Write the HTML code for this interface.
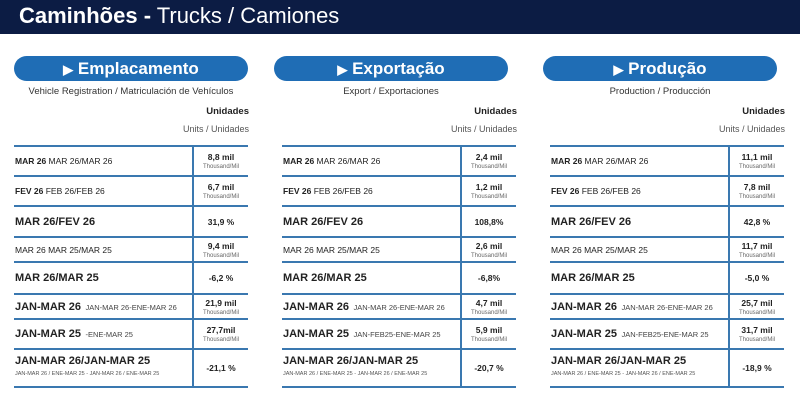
<!DOCTYPE html>
<html><head><meta charset="utf-8">
<style>
body{margin:0;width:800px;height:401px;background:#fff;position:relative;overflow:hidden;font-family:"Liberation Sans",sans-serif;color:#222}
.abs{position:absolute}
#hdr{left:0;top:0;width:800px;height:34px;background:#0c1c44}
#hdr span{position:absolute;left:19px;top:3px;color:#fff;font-size:22px;white-space:nowrap}
.pill{background:#1f6db5;border-radius:13px;height:25px;color:#fff;font-weight:bold;font-size:17px;text-align:center;line-height:25px}
.sub{font-size:9.5px;color:#333;text-align:center}
.hl{height:2px;background:#3a78b0}
.vl{width:2px;background:#3a78b0}
.lbl{font-size:8.5px;white-space:nowrap;color:#222}
.val{text-align:center;font-size:8.5px;font-weight:bold;color:#222}
.unit{font-size:6px;color:#666;font-weight:normal;display:block;margin-top:2px}
</style></head><body>
<div id="hdr" class="abs"><span><b>Caminhões -</b> Trucks / Camiones</span></div>
<script>
const panelTitles=["Emplacamento","Exportação","Produção"];
const panelSubs=["Vehicle Registration / Matriculación de Vehículos","Export / Exportaciones","Production / Producción"];
const pillX=[14,274,543];
const tabX=[14,282,550];
const sepX=[192,460,728];
const lines=[146,176,206,237,262,294,319,349,387];
const rowBold=[["MAR 26","FEV 26","MAR 26/FEV 26","","MAR 26/MAR 25","JAN-MAR 26","JAN-MAR 25","JAN-MAR 26/JAN-MAR 25"]];
const rowSmall=[
 ["MAR 26/MAR 26","FEB 26/FEB 26","","MAR 26 MAR 25/MAR 25","","JAN-MAR 26-ENE-MAR 26","-ENE-MAR 25","JAN-MAR 26 / ENE-MAR 25 - JAN-MAR 26 / ENE-MAR 25"],
 ["MAR 26/MAR 26","FEB 26/FEB 26","","MAR 26 MAR 25/MAR 25","","JAN-MAR 26-ENE-MAR 26","JAN-FEB25-ENE-MAR 25","JAN-MAR 26 / ENE-MAR 25 - JAN-MAR 26 / ENE-MAR 25"],
 ["MAR 26/MAR 26","FEB 26/FEB 26","","MAR 26 MAR 25/MAR 25","","JAN-MAR 26-ENE-MAR 26","JAN-FEB25-ENE-MAR 25","JAN-MAR 26 / ENE-MAR 25 - JAN-MAR 26 / ENE-MAR 25"]];
const values=[
 ["8,8 mil","6,7 mil","31,9 %","9,4 mil","-6,2 %","21,9 mil","27,7mil","-21,1 %"],
 ["2,4 mil","1,2 mil","108,8%","2,6 mil","-6,8%","4,7 mil","5,9 mil","-20,7 %"],
 ["11,1 mil","7,8 mil","42,8 %","11,7 mil","-5,0 %","25,7 mil","31,7 mil","-18,9 %"]];
const hasUnit=[true,true,false,true,false,true,true,false];
const big=[false,false,true,false,true,true,true,true];
function add(cls,css,html){const d=document.createElement('div');d.className='abs '+cls;Object.assign(d.style,css);if(html!==undefined)d.innerHTML=html;document.body.appendChild(d);return d;}
for(let p=0;p<3;p++){
 const pill=add('pill',{left:pillX[p]+'px',top:'56px',width:'234px'},'<span style="font-size:13px">&#9654;</span> '+panelTitles[p]);
 
 
 const sub=add('sub',{left:pillX[p]+'px',top:'86px',width:'234px'},panelSubs[p]);
 
 
 const u1=add('lbl',{left:(tabX[p]+120)+'px',top:'106px',width:'115px',textAlign:'right',fontWeight:'bold',fontSize:'9.5px'},'Unidades');
 
 
 const u2=add('lbl',{left:(tabX[p]+120)+'px',top:'124px',width:'115px',textAlign:'right',fontSize:'9px',color:'#555'},'Units / Unidades');
 
 
 for(const y of lines){
  const l=add('hl',{left:tabX[p]+'px',top:(y-1)+'px',width:'234px'});
  
  
 }
 const v=add('vl',{left:sepX[p]+'px',top:lines[0]+'px',height:(lines[8]-lines[0])+'px'});
 
 
 for(let r=0;r<8;r++){
  const y0=lines[r],y1=lines[r+1],h=y1-y0;
  const b=rowBold[0][r],s=rowSmall[p][r];
  let html;
  if(r===7) html='<b style="font-size:11px">'+b+'</b><br><span style="font-size:5.5px;color:#555">'+s+'</span>';
  else if(big[r]) html='<b style="font-size:11px">'+b+'</b> <span style="font-size:7.5px;color:#444">&nbsp;'+s+'</span>';
  else html=(b?'<b>'+b+'</b> ':'')+s;
  const lb=add('lbl',{left:(tabX[p]+1)+'px',top:y0+'px',height:h+'px',display:'flex',flexDirection:'column',justifyContent:'center',lineHeight:r===7?'11px':'normal'},'<div>'+html+'</div>');
  
  
  const vv=add('val',{left:(sepX[p]+2)+'px',top:y0+'px',width:(tabX[p]+234-sepX[p]-2)+'px',height:h+'px',display:'flex',flexDirection:'column',justifyContent:'center'},'<div>'+values[p][r]+(hasUnit[r]?'<span class="unit">Thousand/Mil</span>':'')+'</div>');
  
  
 }
}
</script>
</body></html>
